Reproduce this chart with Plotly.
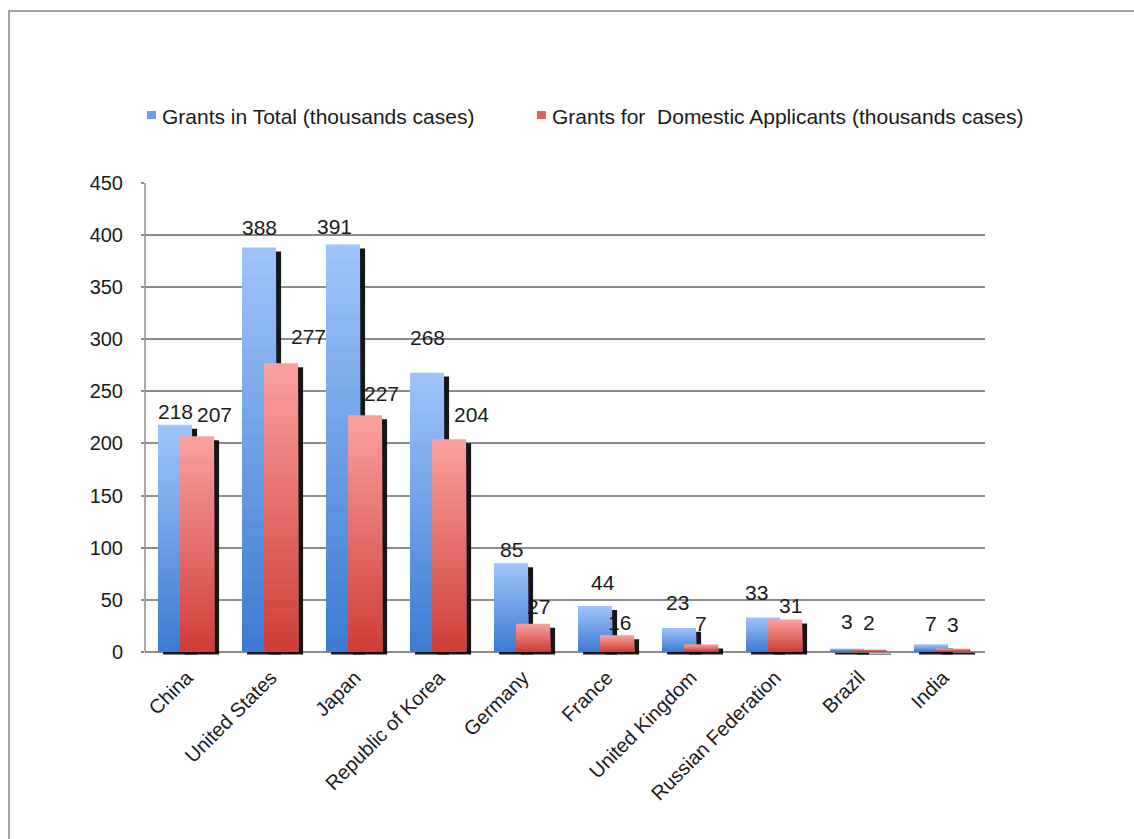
import plotly.graph_objects as go

# ---- data -------------------------------------------------------------
countries = ["China", "United States", "Japan", "Republic of Korea", "Germany",
             "France", "United Kingdom", "Russian Federation", "Brazil", "India"]
grants_total = [218, 388, 391, 268, 85, 44, 23, 33, 3, 7]
grants_domestic = [207, 277, 227, 204, 27, 16, 7, 31, 2, 3]
y_tick_values = [0, 50, 100, 150, 200, 250, 300, 350, 400, 450]

series_names = ["Grants in Total (thousands cases)",
                "Grants for  Domestic Applicants (thousands cases)"]

# value-label nudges (pixels): horizontal shift and gap above the bar top
total_label_dx = [0, 0, -9, 0, 0, 8, -2, -7, 0, 0]
total_label_gap = [4, 11, 8, 26, 4, 14, 16, 15, 18, 12]
domestic_label_dx = [17, 27, 16, 22, 5, 2, 0, 5, 0, 0]
domestic_label_gap = [12, 17, 12, 15, 8, 3, 12, 5, 18, 15]

# ---- layout geometry --------------------------------------------------
W, H = 1134, 839
M_L, M_R, M_T, M_B = 145, 149, 183, 184
PLOT_W = W - M_L - M_R
PLOT_H = H - M_T - M_B
Y_MIN, Y_MAX = -3, 450
PX_PER_CAT = PLOT_W / len(countries)

BAR_W = 0.405
TOTAL_OFFSET = -0.345
DOMESTIC_OFFSET = -0.083
SHADOW_DX = 0.06
SHADOW_DY = 3.8
SHADOW_BASE = -2.5

BLUE_TOP, BLUE_BOTTOM = (160, 196, 250), (60, 122, 210)
RED_TOP, RED_BOTTOM = (250, 162, 160), (206, 60, 55)
N_STEPS = 28


def px_x(px):
    return (px - M_L) / PLOT_W


def px_y(py):
    return (M_T + PLOT_H - py) / PLOT_H


def mix(bottom, top, t):
    r, g, b = (round(bottom[i] + (top[i] - bottom[i]) * t) for i in range(3))
    return f"rgb({r},{g},{b})"


def shadow_trace(values, offset):
    return go.Bar(
        x=countries,
        y=[v - SHADOW_DY - SHADOW_BASE for v in values],
        base=SHADOW_BASE,
        offset=offset + SHADOW_DX,
        width=BAR_W,
        marker=dict(color="rgba(10,10,10,0.95)", line=dict(width=0)),
        showlegend=False,
        hoverinfo="skip",
    )


def gradient_traces(values, offset, bottom, top, name):
    # stacked-from-zero bars of shrinking height give a vertical gradient
    traces = []
    for k in range(N_STEPS):
        frac = (N_STEPS - k) / N_STEPS
        traces.append(go.Bar(
            x=countries,
            y=[v * frac for v in values],
            offset=offset,
            width=BAR_W,
            marker=dict(color=mix(bottom, top, frac - 0.5 / N_STEPS),
                        line=dict(width=0)),
            name=name,
            showlegend=False,
            customdata=values,
            hovertemplate="%{x}: %{customdata}<extra>" + name + "</extra>",
            hoverinfo=None if k == 0 else "skip",
        ))
    return traces


fig = go.Figure()
fig.add_trace(shadow_trace(grants_total, TOTAL_OFFSET))
for tr in gradient_traces(grants_total, TOTAL_OFFSET, BLUE_BOTTOM, BLUE_TOP, series_names[0]):
    fig.add_trace(tr)
fig.add_trace(shadow_trace(grants_domestic, DOMESTIC_OFFSET))
for tr in gradient_traces(grants_domestic, DOMESTIC_OFFSET, RED_BOTTOM, RED_TOP, series_names[1]):
    fig.add_trace(tr)

# ---- value labels -----------------------------------------------------
label_font = dict(family="Liberation Sans, Arial, sans-serif", size=21, color="#1a1a1a")
annotations = []
for values, offset, dxs, gaps in (
        (grants_total, TOTAL_OFFSET, total_label_dx, total_label_gap),
        (grants_domestic, DOMESTIC_OFFSET, domestic_label_dx, domestic_label_gap)):
    centre_px = (offset + BAR_W / 2) * PX_PER_CAT
    for c, v, dx, gap in zip(countries, values, dxs, gaps):
        annotations.append(dict(
            x=c, y=v, xref="x", yref="y", text=str(v), showarrow=False,
            xanchor="center", yanchor="bottom",
            xshift=centre_px + dx, yshift=gap - 4,
            font=label_font,
        ))

# ---- legend (drawn in place, above the plot) ---------------------------
legend_font = dict(family="Liberation Sans, Arial, sans-serif", size=21, color="#1a1a1a")
legend_items = [(147, 160, "rgb(110,157,232)", series_names[0]),
                (537, 550, "rgb(226,100,98)", series_names[1])]
shapes = []
for sq_x, text_x, colour, label in legend_items:
    shapes.append(dict(type="rect", xref="paper", yref="paper",
                       x0=px_x(sq_x), x1=px_x(sq_x + 9),
                       y0=px_y(119), y1=px_y(111),
                       fillcolor=colour, line=dict(width=0)))
    annotations.append(dict(x=px_x(text_x), y=px_y(116), xref="paper", yref="paper",
                            text=label, showarrow=False, xanchor="left",
                            yanchor="middle", font=legend_font))

# value axis line
shapes.append(dict(type="line", xref="paper", yref="y", x0=0, x1=0, y0=0, y1=450,
                   line=dict(color="#8c8c8c", width=1.5), layer="below"))
# outer frame
shapes.append(dict(type="rect", xref="paper", yref="paper",
                   x0=px_x(9), x1=px_x(W + 10), y0=px_y(H + 10), y1=px_y(11),
                   line=dict(color="#a3a3a3", width=2), fillcolor="rgba(0,0,0,0)"))

tick_font = dict(family="Liberation Sans, Arial, sans-serif", size=20, color="#1a1a1a")
fig.update_layout(
    width=W, height=H,
    margin=dict(l=M_L, r=M_R, t=M_T, b=M_B, pad=0),
    paper_bgcolor="white", plot_bgcolor="white",
    barmode="overlay",
    showlegend=False,
    annotations=annotations,
    shapes=shapes,
    xaxis=dict(
        type="category", range=[-0.5, len(countries) - 0.5],
        tickangle=-45, tickfont=tick_font, showgrid=False, zeroline=False,
        showline=False, ticks="", ticklabelstandoff=6,
    ),
    yaxis=dict(
        range=[Y_MIN, Y_MAX], tickvals=y_tick_values, tickfont=tick_font,
        showgrid=True, gridcolor="#8c8c8c", gridwidth=1.5, zeroline=False,
        showline=False, ticks="outside", ticklen=3, tickcolor="#8c8c8c",
        tickwidth=1.5, ticklabelstandoff=14,
    ),
)

fig.write_html("out.html")
